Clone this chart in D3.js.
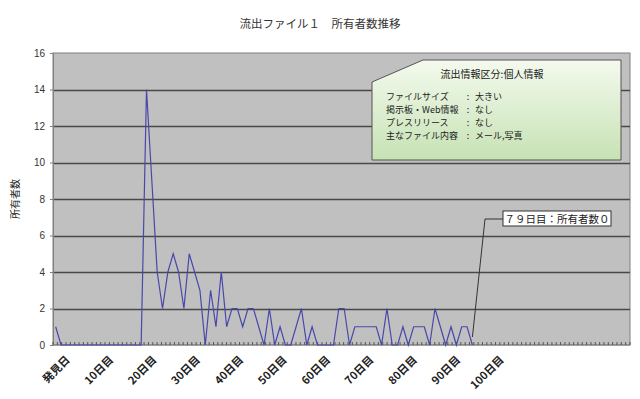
<!DOCTYPE html>
<html>
<head>
<meta charset="utf-8">
<script src="https://cdn.jsdelivr.net/npm/d3@7"></script>
<style>
  body { margin: 0; background: #fff; }
  svg { display: block; }
</style>
</head>
<body>
<svg></svg>
<script>
// owners per day, index 0 = 発見日 (last point = 79日目)
var owners = [1, 0, 0, 0, 0, 0, 0, 0, 0, 0,
              0, 0, 0, 0, 0, 0, 0, 14, 9, 4,
              2, 4, 5, 4, 2, 5, 4, 3, 0, 3,
              1, 4, 1, 2, 2, 1, 2, 2, 1, 0,
              2, 0, 1, 0, 0, 1, 2, 0, 1, 0,
              0, 0, 0, 2, 2, 0, 1, 1, 1, 1,
              1, 0, 2, 0, 0, 1, 0, 1, 1, 1,
              0, 2, 1, 0, 1, 0, 1, 1, 0];
var yTicks = [0, 2, 4, 6, 8, 10, 12, 14, 16];
var xTickIdx = [0, 10, 20, 30, 40, 50, 60, 70, 80, 90, 100];
var xTickLabels = ["発見日", "10日目", "20日目", "30日目", "40日目", "50日目",
                   "60日目", "70日目", "80日目", "90日目", "100日目"];
var infoTitle = "流出情報区分:個人情報";
var infoKeys = ["ファイルサイズ", "掲示板・Web情報", "プレスリリース", "主なファイル内容"];
var infoVals = ["大きい", "なし", "なし", "メール,写真"];
var noteText = "７９日目：所有者数０";
var axisCount = 133, slotCount = 108;

var W = 640, H = 399;
var m = {left: 53, top: 53, right: 10, bottom: 54};
var w = W - m.left - m.right, h = H - m.top - m.bottom;
var jp = "'Noto Sans CJK JP', sans-serif";

var svg = d3.select("svg").attr("width", W).attr("height", H);

svg.append("text")
    .attr("x", 320).attr("y", 28)
    .attr("text-anchor", "middle")
    .style("font-family", jp).style("font-size", "11.5px").style("fill", "#333")
    .text("流出ファイル１　所有者数推移");

var g = svg.append("g").attr("transform", "translate(" + m.left + "," + m.top + ")");

var y = d3.scaleLinear().domain([0, 16]).range([h, 0]);
var xAxisScale = d3.scaleBand().domain(d3.range(axisCount)).range([0, w]);
var xData = d3.scaleBand().domain(d3.range(slotCount)).range([0, w]);

g.append("rect").attr("width", w).attr("height", h)
    .attr("fill", "#c0c0c0").attr("stroke", "#808080");

g.selectAll(".grid").data(yTicks.slice(1, -1)).enter().append("line")
    .attr("x1", 0).attr("x2", w)
    .attr("y1", function(d){ return Math.round(y(d)) + 0.5; })
    .attr("y2", function(d){ return Math.round(y(d)) + 0.5; })
    .attr("stroke", "#484848").attr("stroke-width", 1.3);

// y axis
var yAx = g.append("g").call(d3.axisLeft(y).tickValues(yTicks).tickSize(3).tickPadding(5));
yAx.select(".domain").attr("stroke", "#808080");
yAx.selectAll(".tick line").attr("stroke", "#808080");
yAx.selectAll("text").style("font-family", "'Liberation Sans', Arial").style("font-size", "10px").style("fill", "#333");

svg.append("text")
    .attr("transform", "translate(19,199) rotate(-90)")
    .attr("text-anchor", "middle")
    .style("font-family", jp).style("font-size", "10px").style("fill", "#222")
    .text("所有者数");

// x axis ticks
var xg = g.append("g").attr("transform", "translate(0," + h + ")");
xg.append("line").attr("x1", 0).attr("x2", w).attr("stroke", "#808080");
xg.selectAll(".xt").data(d3.range(axisCount + 1)).enter().append("line")
    .attr("x1", function(d){ return d === axisCount ? w : xAxisScale(d); })
    .attr("x2", function(d){ return d === axisCount ? w : xAxisScale(d); })
    .attr("y1", -3).attr("y2", 0)
    .attr("stroke", "#555");
xg.selectAll(".xl").data(xTickIdx).enter().append("text")
    .attr("transform", function(d){
        return "translate(" + (xAxisScale(d) + xAxisScale.bandwidth() / 2 + 10) + ",10) rotate(-45)";
    })
    .attr("text-anchor", "end")
    .attr("dy", "0.7em")
    .style("font-family", jp).style("font-size", "11px").style("font-weight", "bold").style("fill", "#222")
    .text(function(d, i){ return xTickLabels[i]; });

// series
var line = d3.line()
    .x(function(d, i){ return xData(i) + xData.bandwidth() / 2; })
    .y(function(d){ return y(d); });
g.append("path").datum(owners)
    .attr("d", line)
    .attr("fill", "none").attr("stroke", "#4848aa").attr("stroke-width", 1.2);

// info callout
var defs = svg.append("defs");
var grad = defs.append("linearGradient").attr("id", "gr").attr("x1", 0).attr("y1", 0).attr("x2", 0).attr("y2", 1);
grad.append("stop").attr("offset", "0%").attr("stop-color", "#f4faee");
grad.append("stop").attr("offset", "100%").attr("stop-color", "#c6e2b4");
svg.append("path")
    .attr("d", "M372,82 L423,60 L621,60 L621,160 L372,160 Z")
    .attr("fill", "url(#gr)").attr("stroke", "#555").attr("stroke-width", 1);
svg.append("text").attr("x", 492).attr("y", 78).attr("text-anchor", "middle")
    .style("font-family", jp).style("font-size", "10px").style("fill", "#222")
    .text(infoTitle);
infoKeys.forEach(function(k, i){
    var ty = 100 + i * 13;
    svg.append("text").attr("x", 386).attr("y", ty)
        .style("font-family", jp).style("font-size", "9px").style("fill", "#222").text(k);
    svg.append("text").attr("x", 468).attr("y", ty).attr("text-anchor", "middle")
        .style("font-family", jp).style("font-size", "9px").style("fill", "#222").text(":");
    svg.append("text").attr("x", 475).attr("y", ty)
        .style("font-family", jp).style("font-size", "9px").style("fill", "#222").text(infoVals[i]);
});

// last-day callout
var lastI = owners.length - 1;
var px = m.left + xData(lastI) + xData.bandwidth() / 2, py = m.top + y(owners[lastI]) - 8;
svg.append("path")
    .attr("d", "M" + px + "," + py + " L485,219 L503,219")
    .attr("fill", "none").attr("stroke", "#333");
svg.append("rect").attr("x", 503).attr("y", 211).attr("width", 108).attr("height", 15)
    .attr("fill", "#fff").attr("stroke", "#333");
svg.append("text").attr("x", 557).attr("y", 222.5).attr("text-anchor", "middle")
    .style("font-family", jp).style("font-size", "10.5px").style("fill", "#222")
    .text(noteText);
</script>
</body>
</html>
